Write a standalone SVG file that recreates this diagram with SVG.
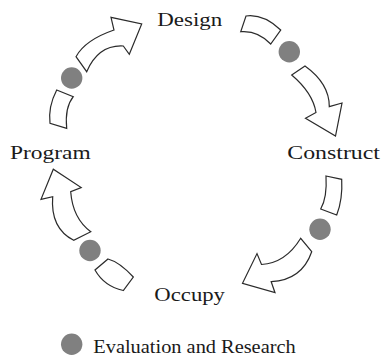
<svg xmlns="http://www.w3.org/2000/svg" width="383" height="360" viewBox="0 0 383 360">
<style>
.lbl{font-family:"Liberation Serif","Times New Roman",serif;font-size:19px;fill:#1a1a1a}
.arr{fill:#fff;stroke:#2b2b2b;stroke-width:1.2;stroke-linejoin:miter}
.dot{fill:#808080}
</style>
<rect width="383" height="360" fill="#fff"/>
<g id="connectors">
<path class="arr" d="M56.7,90 L73.3,96.7 Q64.6,107.5 66.7,128.3 L50,123.3 Q48,106.8 56.7,90 Z"/>
<path class="arr" d="M76,56.7 Q85,40 114,30 L111,17.3 L141.7,24 L129.3,54.3 L123.3,46 Q98.4,44.6 86.7,71.7 Z"/>
<path class="arr" d="M246,16 Q263.3,13.6 280.7,30 L270.7,44 Q257.7,30.2 240.7,31.7 Z"/>
<path class="arr" d="M291.7,75 L305,66 Q329.5,83.7 329.3,106.7 L342,103 L335.5,136 L305.5,118.3 L316,112.5 Q312.8,92.9 291.7,75 Z"/>
<path class="arr" d="M326,176 L341.7,179.3 Q342.8,199.5 336.7,215 L320.7,209 Q327.3,197.5 326,176 Z"/>
<path class="arr" d="M300.7,238.3 Q285.5,263.2 261.5,264.5 L257,253.6 L242.5,283.3 L275,292.7 L271.2,281.7 Q302,279.9 311.7,251.7 Z"/>
<path class="arr" d="M73.7,240.3 Q50.2,228.1 52.7,196.7 L41,199.3 L53.3,169.2 L81.2,187.5 L70.7,191.7 Q72.7,218.3 90.8,231.7 Z"/>
<path class="arr" d="M108,259 Q119.4,262 133.3,277 L123.3,290.5 Q104.3,286.4 95,270 Z"/>
</g>
<g id="eval-dots">
<circle class="dot" cx="71.7" cy="78" r="10.7"/>
<circle class="dot" cx="289.3" cy="51.7" r="10.7"/>
<circle class="dot" cx="320" cy="229.3" r="10.7"/>
<circle class="dot" cx="90" cy="250.5" r="10.7"/>
</g>
<g id="design"><text class="lbl" x="157.3" y="26" textLength="65" lengthAdjust="spacingAndGlyphs">Design</text></g>
<g id="program"><text class="lbl" x="10" y="158.5" textLength="80.7" lengthAdjust="spacingAndGlyphs">Program</text></g>
<g id="construct"><text class="lbl" x="287.3" y="158.5" textLength="92.7" lengthAdjust="spacingAndGlyphs">Construct</text></g>
<g id="occupy"><text class="lbl" x="154.3" y="300.7" textLength="70.7" lengthAdjust="spacingAndGlyphs">Occupy</text></g>
<g id="legend">
<circle class="dot" cx="71.7" cy="344.3" r="10.7"/>
<text class="lbl" x="93.3" y="352.7" textLength="202.4" lengthAdjust="spacingAndGlyphs">Evaluation and Research</text>
</g>
</svg>
